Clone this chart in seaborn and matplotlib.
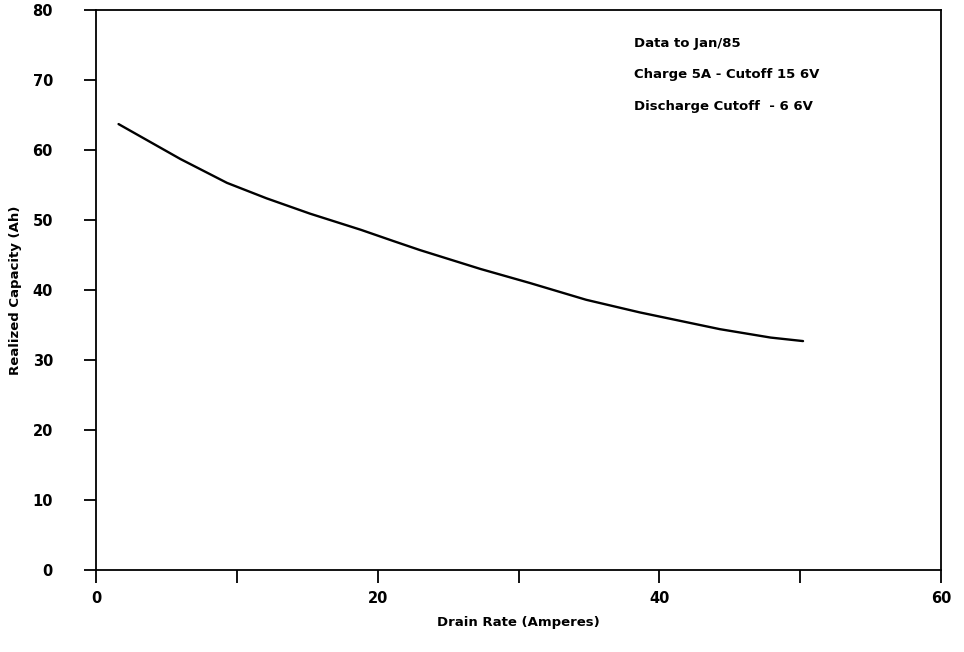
import numpy as np
import pandas as pd
import matplotlib
matplotlib.use('Agg')
import matplotlib.pyplot as plt
import seaborn as sns

# values
drain_rate = [1.6, 3.8, 6.0, 9.3, 12.1, 15.2, 18.8, 21.1, 23.0, 27.3,
              30.8, 34.8, 38.6, 44.3, 47.9, 50.2]
capacity = [63.7, 61.2, 58.7, 55.3, 53.1, 50.9, 48.6, 47.0, 45.7, 43.0,
            41.0, 38.6, 36.8, 34.4, 33.2, 32.7]
x_ticklabels = ['0', '', '20', '', '40', '', '60']
notes = ['Data to Jan/85', 'Charge 5A - Cutoff 15 6V', 'Discharge Cutoff  - 6 6V']

sns.set_theme(style="white")
plt.rcParams['font.family'] = ['DejaVu Sans']
plt.rcParams['text.color'] = 'black'

df = pd.DataFrame({'drain': drain_rate, 'cap': capacity})

fig = plt.figure(figsize=(9.64, 6.52), dpi=100)
ax = fig.add_axes([0.0996, 0.1258, 0.8766, 0.8589])
sns.lineplot(data=df, x='drain', y='cap', color='black', linewidth=1.7, ax=ax)

ax.set_xlim(0, 60)
ax.set_ylim(0, 80)
ax.set_xticks(np.arange(0, 61, 10))
ax.set_xticklabels(x_ticklabels)
ax.set_yticks(np.arange(0, 81, 10))
ax.tick_params(axis='both', direction='out', length=9, width=1.3, color='black',
               labelcolor='black', labelsize=10.5, bottom=True, left=True)
ax.tick_params(axis='x', pad=6)
ax.tick_params(axis='y', pad=22)
for lbl in ax.get_xticklabels() + ax.get_yticklabels():
    lbl.set_fontweight('bold')
for s in ax.spines.values():
    s.set_color('black')
    s.set_linewidth(1.3)

ax.set_xlabel('Drain Rate (Amperes)', fontsize=9.5, fontweight='bold', color='black')
ax.set_ylabel('Realized Capacity (Ah)', fontsize=9.5, fontweight='bold', color='black')
ax.xaxis.set_label_coords(0.5, -0.082)
ax.yaxis.set_label_coords(-0.088, 0.5)

for i, t in enumerate(notes):
    ax.text(0.637, 0.94 - i * 0.056, t, transform=ax.transAxes, fontsize=9.5,
            fontweight='bold', va='center', ha='left', color='black')

fig.savefig('out.png', dpi=100)
